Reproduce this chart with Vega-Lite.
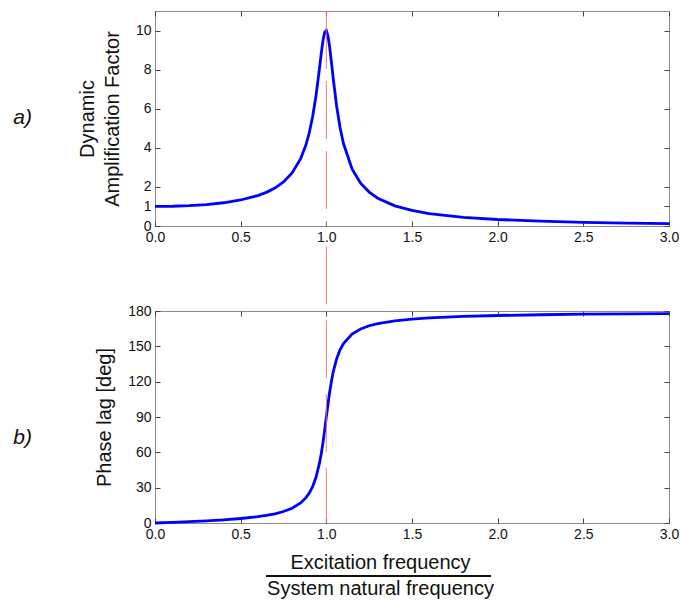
{
  "$schema": "https://vega.github.io/schema/vega-lite/v6.json",
  "background": "white",
  "padding": {"left": 12, "top": 10, "right": 5, "bottom": 5},
  "bounds": "flush",
  "config": {
    "font": "Liberation Sans",
    "view": {"stroke": "#8a8a8a", "strokeWidth": 1},
    "axis": {
      "domain": false,
      "grid": false,
      "tickColor": "#444",
      "tickSize": -5,
      "labelFont": "Liberation Sans",
      "labelFontSize": 14,
      "labelColor": "#111",
      "labelPadding": 9,
      "titleFont": "Liberation Sans",
      "titleFontSize": 20,
      "titleFontWeight": "normal",
      "titleColor": "#111"
    }
  },
  "datasets": {
    "frf": [
      {"r": 0, "amp": 1, "phase": 0},
      {"r": 0.1, "amp": 1.0101, "phase": 0.58},
      {"r": 0.2, "amp": 1.0415, "phase": 1.19},
      {"r": 0.3, "amp": 1.0983, "phase": 1.89},
      {"r": 0.4, "amp": 1.1891, "phase": 2.73},
      {"r": 0.5, "amp": 1.3304, "phase": 3.81},
      {"r": 0.6, "amp": 1.5557, "phase": 5.36},
      {"r": 0.65, "amp": 1.7207, "phase": 6.42},
      {"r": 0.7, "amp": 1.9426, "phase": 7.82},
      {"r": 0.75, "amp": 2.2529, "phase": 9.73},
      {"r": 0.8, "amp": 2.7116, "phase": 12.53},
      {"r": 0.85, "amp": 3.4456, "phase": 17.03},
      {"r": 0.88, "amp": 4.1296, "phase": 21.31},
      {"r": 0.9, "amp": 4.7565, "phase": 25.35},
      {"r": 0.92, "amp": 5.5852, "phase": 30.93},
      {"r": 0.94, "amp": 6.6837, "phase": 38.92},
      {"r": 0.96, "amp": 8.068, "phase": 50.77},
      {"r": 0.97, "amp": 8.8045, "phase": 58.65},
      {"r": 0.98, "amp": 9.4609, "phase": 68.0},
      {"r": 0.99, "amp": 9.903, "phase": 78.64},
      {"r": 1.0, "amp": 10, "phase": 90},
      {"r": 1.01, "amp": 9.7106, "phase": 101.26},
      {"r": 1.02, "amp": 9.115, "phase": 111.61},
      {"r": 1.03, "amp": 8.357, "phase": 120.59},
      {"r": 1.04, "amp": 7.565, "phase": 128.12},
      {"r": 1.06, "amp": 6.1415, "phase": 139.38},
      {"r": 1.08, "amp": 5.0409, "phase": 147.0},
      {"r": 1.1, "amp": 4.2182, "phase": 152.35},
      {"r": 1.15, "amp": 2.9206, "phase": 160.37},
      {"r": 1.2, "amp": 2.1926, "phase": 164.74},
      {"r": 1.25, "amp": 1.7355, "phase": 167.47},
      {"r": 1.3, "amp": 1.4242, "phase": 169.33},
      {"r": 1.4, "amp": 1.0308, "phase": 171.7},
      {"r": 1.5, "amp": 0.7943, "phase": 173.16},
      {"r": 1.6, "amp": 0.6377, "phase": 174.14},
      {"r": 1.8, "amp": 0.445, "phase": 175.41},
      {"r": 2.0, "amp": 0.3326, "phase": 176.19},
      {"r": 2.25, "amp": 0.2458, "phase": 176.83},
      {"r": 2.5, "amp": 0.1903, "phase": 177.27},
      {"r": 2.75, "amp": 0.1522, "phase": 177.6},
      {"r": 3.0, "amp": 0.1249, "phase": 177.85}
    ],
    "one": [{"label": "x"}]
  },
  "spacing": 85,
  "vconcat": [
    {
      "width": 514,
      "height": 215,
      "layer": [
        {
          "data": {"name": "frf"},
          "mark": {"type": "line", "color": "#0000ff", "strokeWidth": 2.8},
          "encoding": {
            "x": {"field": "r", "type": "quantitative", "scale": {"domain": [0, 3], "nice": false},
                  "axis": {"values": [0, 0.5, 1, 1.5, 2, 2.5, 3], "format": ".1f", "title": null, "labelFlush": false}},
            "y": {"field": "amp", "type": "quantitative", "scale": {"domain": [0, 11], "nice": false},
                  "axis": {"values": [0, 1, 2, 4, 6, 8, 10], "title": ["Dynamic", "Amplification Factor"], "titleLineHeight": 25, "titlePadding": 13}}
          }
        },
        {
          "data": {"name": "frf"},
          "mark": {"type": "line", "opacity": 0},
          "encoding": {
            "x": {"field": "r", "type": "quantitative", "axis": {"orient": "top", "values": [0, 0.5, 1, 1.5, 2, 2.5, 3], "labels": false, "title": null}},
            "y": {"field": "amp", "type": "quantitative", "axis": {"orient": "right", "values": [0, 1, 2, 4, 6, 8, 10], "labels": false, "title": null}}
          }
        },
        {
          "data": {"name": "one"},
          "mark": {"type": "rule", "color": "#f07070", "strokeWidth": 1, "strokeDash": [58, 12], "opacity": 0.9},
          "encoding": {
            "x": {"datum": 1, "type": "quantitative", "axis": null},
            "y": {"datum": 11, "type": "quantitative", "axis": null},
            "y2": {"datum": 0}
          }
        },
        {
          "data": {"name": "one"},
          "mark": {"type": "text", "text": "a)", "fontSize": 21, "fontStyle": "italic", "color": "#111"},
          "encoding": {
            "x": {"datum": -0.773, "type": "quantitative", "axis": null},
            "y": {"datum": 5.52, "type": "quantitative", "axis": null}
          }
        }
      ],
      "resolve": {"axis": {"x": "independent", "y": "independent"}}
    },
    {
      "width": 514,
      "height": 212,
      "layer": [
        {
          "data": {"name": "frf"},
          "mark": {"type": "line", "color": "#0000ff", "strokeWidth": 2.8},
          "encoding": {
            "x": {"field": "r", "type": "quantitative", "scale": {"domain": [0, 3], "nice": false},
                  "axis": {"values": [0, 0.5, 1, 1.5, 2, 2.5, 3], "format": ".1f", "labelFlush": false,
                           "title": ["Excitation frequency", "System natural frequency"], "titleLineHeight": 26, "titlePadding": 11, "titleX": 225}},
            "y": {"field": "phase", "type": "quantitative", "scale": {"domain": [0, 180], "nice": false},
                  "axis": {"values": [0, 30, 60, 90, 120, 150, 180], "title": "Phase lag [deg]", "titlePadding": 13}}
          }
        },
        {
          "data": {"name": "frf"},
          "mark": {"type": "line", "opacity": 0},
          "encoding": {
            "x": {"field": "r", "type": "quantitative", "axis": {"orient": "top", "values": [0, 0.5, 1, 1.5, 2, 2.5, 3], "labels": false, "title": null}},
            "y": {"field": "phase", "type": "quantitative", "axis": {"orient": "right", "values": [0, 30, 60, 90, 120, 150, 180], "labels": false, "title": null}}
          }
        },
        {
          "data": {"name": "one"},
          "mark": {"type": "rule", "color": "#f07070", "strokeWidth": 1, "strokeDash": [58, 16], "opacity": 0.9},
          "encoding": {
            "x": {"datum": 1, "type": "quantitative", "axis": null},
            "y": {"datum": 235, "type": "quantitative", "axis": null},
            "y2": {"datum": 0}
          }
        },
        {
          "data": {"name": "one"},
          "mark": {"type": "rule", "color": "#111", "strokeWidth": 2},
          "encoding": {
            "x": {"datum": 0.648, "type": "quantitative", "axis": null},
            "x2": {"datum": 1.961},
            "y": {"datum": -45, "type": "quantitative", "axis": null}
          }
        },
        {
          "data": {"name": "one"},
          "mark": {"type": "text", "text": "b)", "fontSize": 21, "fontStyle": "italic", "color": "#111"},
          "encoding": {
            "x": {"datum": -0.773, "type": "quantitative", "axis": null},
            "y": {"datum": 72, "type": "quantitative", "axis": null}
          }
        }
      ],
      "resolve": {"axis": {"x": "independent", "y": "independent"}}
    }
  ]
}
